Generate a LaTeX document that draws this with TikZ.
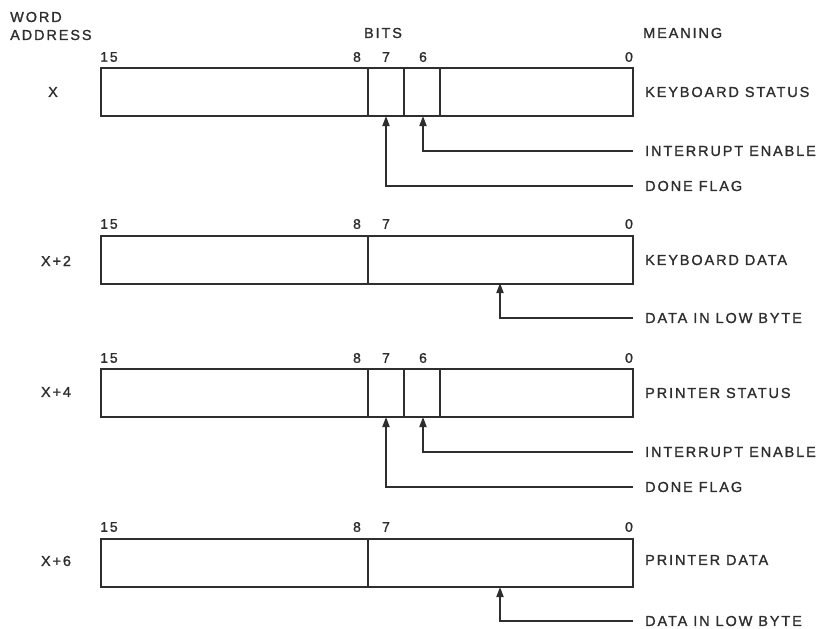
\documentclass[tikz,border=0pt]{standalone}
\usepackage{fontspec}
\setmainfont{Liberation Sans}[LetterSpace=13,FakeBold=1.2]
\usetikzlibrary{arrows.meta}
\definecolor{ink}{HTML}{2E2E2E}
\begin{document}
\begin{tikzpicture}[x=1pt,y=-1pt,
  ln/.style={draw=ink, line width=2pt},
  reg/.style={draw=ink, line width=2pt, minimum width=532pt, minimum height=48pt, inner sep=0pt, outer sep=0pt},
  txt/.style={text=ink, font=\fontsize{14.5}{15}\selectfont, inner sep=0pt},
  num/.style={text=ink, font=\fontsize{14}{15}\selectfont, inner sep=0pt},
  arr/.style={draw=ink, line width=1.8pt, -{Triangle[length=10pt,width=7pt]}}]
\fill[white] (0,0) rectangle (822,629);
\useasboundingbox (0,0) rectangle (822,629);

% headings
\node[txt, anchor=west] (hw) at (10,17) {WORD};
\node[txt, anchor=west] (ha) at (10,35) {ADDRESS};
\node[txt] (hb) at (383,33) {BITS};
\node[txt, anchor=west] (hm) at (643,33) {MEANING};

% ---------- register X ----------
\node[reg] (r1) at (367,92) {};
\draw[ln] (368,68) -- (368,116);
\draw[ln] (404,68) -- (404,116);
\draw[ln] (440,68) -- (440,116);
\node[txt] (a1) at (53,92) {X};
\node[num] (n1a) at (109,57) {15};
\node[num] (n1b) at (357,57) {8};
\node[num] (n1c) at (386,57) {7};
\node[num] (n1d) at (423,57) {6};
\node[num] (n1e) at (629,57) {0};
\node[txt, anchor=west] (m1) at (645,92) {KEYBOARD STATUS};
\node[txt, anchor=west] (m1ie) at (645,151) {INTERRUPT ENABLE};
\node[txt, anchor=west] (m1df) at (645,186) {DONE FLAG};
\coordinate (c1ie) at (633,151);
\coordinate (c1df) at (633,186);
\coordinate (b1six) at (423,116);
\coordinate (b1sev) at (386,116);
\draw[arr] (c1ie) -| (b1six);
\draw[arr] (c1df) -| (b1sev);

% ---------- register X+2 ----------
\node[reg] (r2) at (367,259.5) {};
\draw[ln] (368,236) -- (368,283);
\node[txt] (a2) at (56,261) {X+2};
\node[num] (n2a) at (109,224) {15};
\node[num] (n2b) at (357,224) {8};
\node[num] (n2c) at (386,224) {7};
\node[num] (n2e) at (629,224) {0};
\node[txt, anchor=west] (m2) at (645,260) {KEYBOARD DATA};
\node[txt, anchor=west] (m2d) at (645,318) {DATA IN LOW BYTE};
\coordinate (c2d) at (633,318);
\coordinate (b2lo) at (500,283);
\draw[arr] (c2d) -| (b2lo);

% ---------- register X+4 ----------
\node[reg] (r3) at (367,393) {};
\draw[ln] (368,369) -- (368,417);
\draw[ln] (404,369) -- (404,417);
\draw[ln] (440,369) -- (440,417);
\node[txt] (a3) at (56,392) {X+4};
\node[num] (n3a) at (109,358) {15};
\node[num] (n3b) at (357,358) {8};
\node[num] (n3c) at (386,358) {7};
\node[num] (n3d) at (423,358) {6};
\node[num] (n3e) at (629,358) {0};
\node[txt, anchor=west] (m3) at (645,393) {PRINTER STATUS};
\node[txt, anchor=west] (m3ie) at (645,452) {INTERRUPT ENABLE};
\node[txt, anchor=west] (m3df) at (645,487) {DONE FLAG};
\coordinate (c3ie) at (633,452);
\coordinate (c3df) at (633,487);
\coordinate (b3six) at (423,417);
\coordinate (b3sev) at (386,417);
\draw[arr] (c3ie) -| (b3six);
\draw[arr] (c3df) -| (b3sev);

% ---------- register X+6 ----------
\node[reg] (r4) at (367,562.5) {};
\draw[ln] (368,538) -- (368,587);
\node[txt] (a4) at (56,561) {X+6};
\node[num] (n4a) at (109,527) {15};
\node[num] (n4b) at (357,527) {8};
\node[num] (n4c) at (386,527) {7};
\node[num] (n4e) at (629,527) {0};
\node[txt, anchor=west] (m4) at (645,560) {PRINTER DATA};
\node[txt, anchor=west] (m4d) at (645,621) {DATA IN LOW BYTE};
\coordinate (c4d) at (633,621);
\coordinate (b4lo) at (500,587);
\draw[arr] (c4d) -| (b4lo);
\end{tikzpicture}
\end{document}
